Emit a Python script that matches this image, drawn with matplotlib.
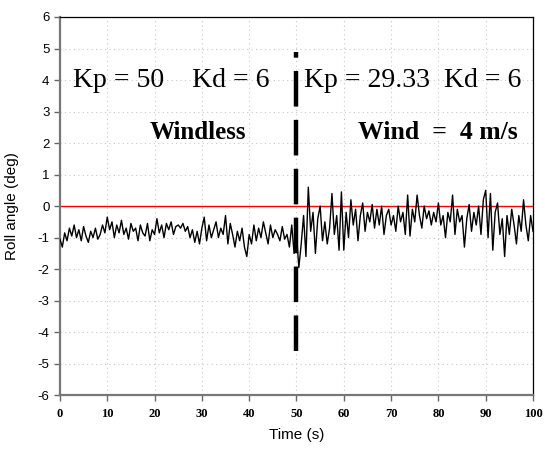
import matplotlib
matplotlib.use("Agg")
import matplotlib.pyplot as plt
import numpy as np

roll_deg = [
    -1.05, -1.3, -0.85, -1.1, -0.7, -0.95, -0.6, -1.0, -0.75, -1.1, -0.65, -0.95, -1.15, -0.8, -1.0, -0.7, -1.05, -0.9, -0.6, -0.85, -0.35,
    -0.75, -0.5, -1.0, -0.6, -0.85, -0.45, -0.9, -0.7, -1.05, -0.55, -0.8, -0.7, -1.1, -0.6, -0.85, -0.95, -0.55, -1.1, -0.75, -0.9,
    -0.4, -0.85, -0.6, -1.0, -0.55, -0.75, -0.5, -0.9, -0.65, -0.6, -0.7, -0.55, -0.8, -0.65, -1.0, -0.75, -1.15, -0.8, -1.2, -0.7,
    -0.35, -1.1, -0.6, -1.0, -0.75, -0.5, -1.0, -0.7, -0.9, -0.3, -1.2, -0.55, -0.9, -1.3, -0.8, -1.1, -0.7, -1.3, -1.6, -0.9,
    -1.2, -0.6, -1.1, -0.7, -1.0, -0.5, -0.85, -1.2, -0.6, -1.0, -0.75, -0.9, -1.1, -0.65, -1.05, -0.9, -1.3, -0.6, -1.5, -0.9,
    -1.95, -1.2, -0.3, -1.6, 0.6, -0.8, -0.2, -1.5, -0.4, 0.0, -1.1, -0.5, -1.2, -0.7, 0.4, -0.9, -0.3, -1.4, 0.45, -1.4,
    -0.2, -1.0, 0.2, -0.6, -0.1, -1.1, -0.3, 0.1, -0.8, -0.2, -0.5, 0.05, -0.7, -0.1, -0.6, 0.0, -0.9, -0.3, -0.1, -0.6,
    -0.3, -0.8, 0.0, -0.5, -0.2, -0.9, 0.35, -0.95, -0.1, -0.5, 0.35, -0.3, -0.7, 0.0, -0.4, -0.15, -0.6, -0.2, -0.5, 0.1,
    -0.6, -0.3, -1.0, -0.2, -0.5, 0.35, -0.9, -0.1, -0.5, -0.3, -1.3, -0.4, 0.05, -0.8, -0.2, -0.6, 0.0, -0.9, 0.2, 0.5,
    -1.0, 0.4, -1.4, -0.2, 0.1, -0.9, -0.4, -1.6, -0.3, -0.9, -0.1, -0.6, -1.2, -0.3, -0.8, 0.2, -0.6, -1.1, -0.3, -0.8,
]
time_s = np.linspace(0, 100, len(roll_deg))

switch_time = 50
x_ticks = list(range(0, 101, 10))
y_ticks = list(range(-6, 7))

fig = plt.figure(figsize=(5.45, 4.59), dpi=100)
ax = fig.add_axes([0.110, 0.139, 0.868, 0.824])

ax.grid(True, color="#c8c8c8", linestyle=(0, (1, 3)), linewidth=0.8)
ax.set_axisbelow(True)
ax.axhline(0, color="red", linewidth=1.0, zorder=2)
ax.plot(time_s, roll_deg, color="black", linewidth=1.0, zorder=3)
ax.plot([switch_time, switch_time], [-4.6, 4.9], color="black", linewidth=3.2,
        dashes=(8, 3), zorder=4)

serif = "Liberation Serif"
ax.text(2.8, 4.0, "Kp = 50    Kd = 6", fontsize=20, family=serif, va="center")
ax.text(51.5, 4.0, "Kp = 29.33  Kd = 6", fontsize=20, family=serif, va="center")
ax.text(19, 2.35, "Windless", fontsize=18, family=serif, weight="bold", va="center")
ax.text(63, 2.35, "Wind  =  4 m/s", fontsize=18.5, family=serif, weight="bold", va="center")

ax.set_xlim(0, 100)
ax.set_ylim(-6, 6)
ax.set_xticks(x_ticks)
ax.set_yticks(y_ticks)
ax.set_xticklabels([str(v) for v in x_ticks], family=serif, weight="bold", fontsize=9)
ax.set_yticklabels([str(v) for v in y_ticks], family="Liberation Sans", fontsize=9.5)
ax.tick_params(axis="both", direction="out", length=4, width=1, color="#666666")
ax.tick_params(axis="x", pad=5)

for side in ("left", "bottom"):
    ax.spines[side].set_color("#777777")
    ax.spines[side].set_linewidth(1.6)
for side in ("top", "right"):
    ax.spines[side].set_color("black")
    ax.spines[side].set_linewidth(0.9)

ax.set_xlabel("Time (s)", family="Liberation Sans", fontsize=11, labelpad=6)
ax.set_ylabel("Roll angle (deg)", family="Liberation Sans", fontsize=11, labelpad=13)

fig.savefig("out.png", dpi=100)
